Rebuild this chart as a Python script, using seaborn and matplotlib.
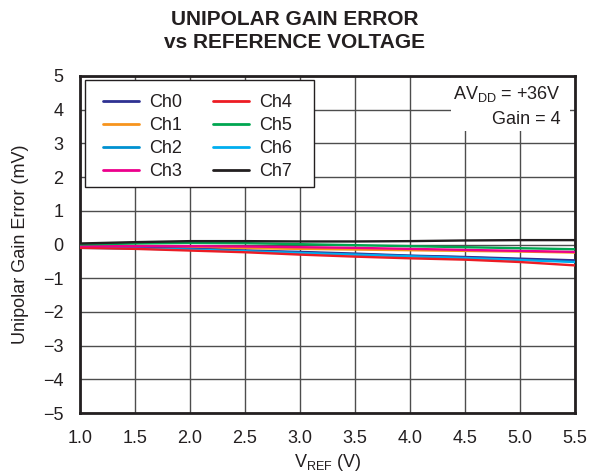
import numpy as np
import pandas as pd
import matplotlib
matplotlib.use("Agg")
import matplotlib.pyplot as plt
from matplotlib.patches import Rectangle
import seaborn as sns

# data
vref = [1.0, 1.5, 2.0, 2.5, 3.0, 3.5, 4.0, 4.5, 5.0, 5.5]
ch0 = [-0.08, -0.10, -0.13, -0.18, -0.22, -0.27, -0.33, -0.37, -0.42, -0.47]
ch1 = [-0.07, -0.08, -0.09, -0.11, -0.13, -0.15, -0.17, -0.19, -0.21, -0.24]
ch2 = [-0.09, -0.11, -0.14, -0.19, -0.24, -0.29, -0.34, -0.38, -0.44, -0.50]
ch3 = [-0.05, -0.05, -0.05, -0.06, -0.08, -0.10, -0.13, -0.16, -0.19, -0.22]
ch4 = [-0.10, -0.13, -0.18, -0.23, -0.30, -0.36, -0.41, -0.45, -0.52, -0.62]
ch5 = [0.00, 0.03, 0.05, 0.04, 0.01, -0.02, -0.05, -0.08, -0.11, -0.14]
ch6 = [-0.10, -0.12, -0.15, -0.20, -0.25, -0.30, -0.35, -0.40, -0.46, -0.52]
ch7 = [0.03, 0.07, 0.10, 0.10, 0.09, 0.09, 0.10, 0.12, 0.13, 0.13]

channels = ["Ch0", "Ch1", "Ch2", "Ch3", "Ch4", "Ch5", "Ch6", "Ch7"]
series = [ch0, ch1, ch2, ch3, ch4, ch5, ch6, ch7]
colors = ["#2E3192", "#F7941D", "#0091D0", "#EC008C",
          "#ED1C24", "#00A651", "#00AEEF", "#231F20"]
xticks = [1.0, 1.5, 2.0, 2.5, 3.0, 3.5, 4.0, 4.5, 5.0, 5.5]
yticks = list(range(-5, 6))

df = pd.concat([pd.DataFrame({"vref": vref, "err": s, "ch": c})
                for c, s in zip(channels, series)])

sns.set_style("white")
plt.rcParams["font.family"] = ["Liberation Sans", "DejaVu Sans"]
W, H = 590, 476

fig = plt.figure(figsize=(5.9, 4.76), dpi=100)
ax = fig.add_axes([80 / W, 1 - 413 / H, 495 / W, 337 / H])

# draw order so black and green sit on top like the reference
order = ["Ch1", "Ch2", "Ch0", "Ch6", "Ch4", "Ch3", "Ch5", "Ch7"]
for c in order:
    i = channels.index(c)
    sns.lineplot(data=df[df.ch == c], x="vref", y="err", color=colors[i],
                 lw=1.7, ax=ax, legend=False, zorder=3)

ax.set_xlim(1.0, 5.5)
ax.set_ylim(-5, 5)
ax.set_xticks(xticks)
ax.set_yticks(yticks)
ax.set_xticklabels([f"{v:.1f}" for v in xticks])
ax.set_yticklabels([str(v).replace("-", "\u2212") for v in yticks])
ax.tick_params(labelsize=13, length=0, pad=12, labelcolor="#231F20")
ax.grid(True, color="#4d4d4d", lw=1)
for sp in ax.spines.values():
    sp.set_color("#231F20")
    sp.set_linewidth(2)

ax.set_xlabel("V$_{\\mathregular{REF}}$ (V)", fontsize=13, labelpad=4,
              color="#231F20")
ax.set_ylabel("Unipolar Gain Error (mV)", fontsize=13, labelpad=10,
              color="#231F20")

fig.text(0.5, 1 - 25 / H, "UNIPOLAR GAIN ERROR", ha="center",
         va="baseline", fontsize=15, fontweight="bold", color="#231F20")
fig.text(0.5, 1 - 48 / H, "vs REFERENCE VOLTAGE", ha="center",
         va="baseline", fontsize=15, fontweight="bold", color="#231F20")

# legend frame and white patch behind the note
fig.add_artist(Rectangle((85 / W, 1 - 187 / H), 229 / W, 107 / H,
                         transform=fig.transFigure, fc="white",
                         ec="#231F20", lw=1, zorder=4))
ax.add_patch(Rectangle((451 / W, 1 - 131 / H), 119 / W, 55 / H,
                       transform=fig.transFigure, fc="white", ec="none",
                       zorder=1.8))

handles = [plt.Line2D([], [], color=colors[i], lw=2) for i in range(8)]
leg = fig.legend(handles, channels, ncol=2, loc="upper left",
                 bbox_to_anchor=(103 / W, 1 - 94 / H), fontsize=13,
                 frameon=False, handlelength=2.0, handletextpad=0.55,
                 columnspacing=1.72, labelspacing=0.34, borderpad=0,
                 borderaxespad=0, labelcolor="#231F20")
leg.set_zorder(5)

ax.text((561 - 80) / 495, (413 - 94) / 337, "AV$_{\\mathregular{DD}}$ = +36V",
        transform=ax.transAxes, ha="right", va="center", fontsize=13,
        color="#231F20", zorder=6)
ax.text((561 - 80) / 495, (413 - 119.5) / 337, "Gain = 4",
        transform=ax.transAxes, ha="right", va="center", fontsize=13,
        color="#231F20", zorder=6)

fig.savefig("out.png", dpi=100)
